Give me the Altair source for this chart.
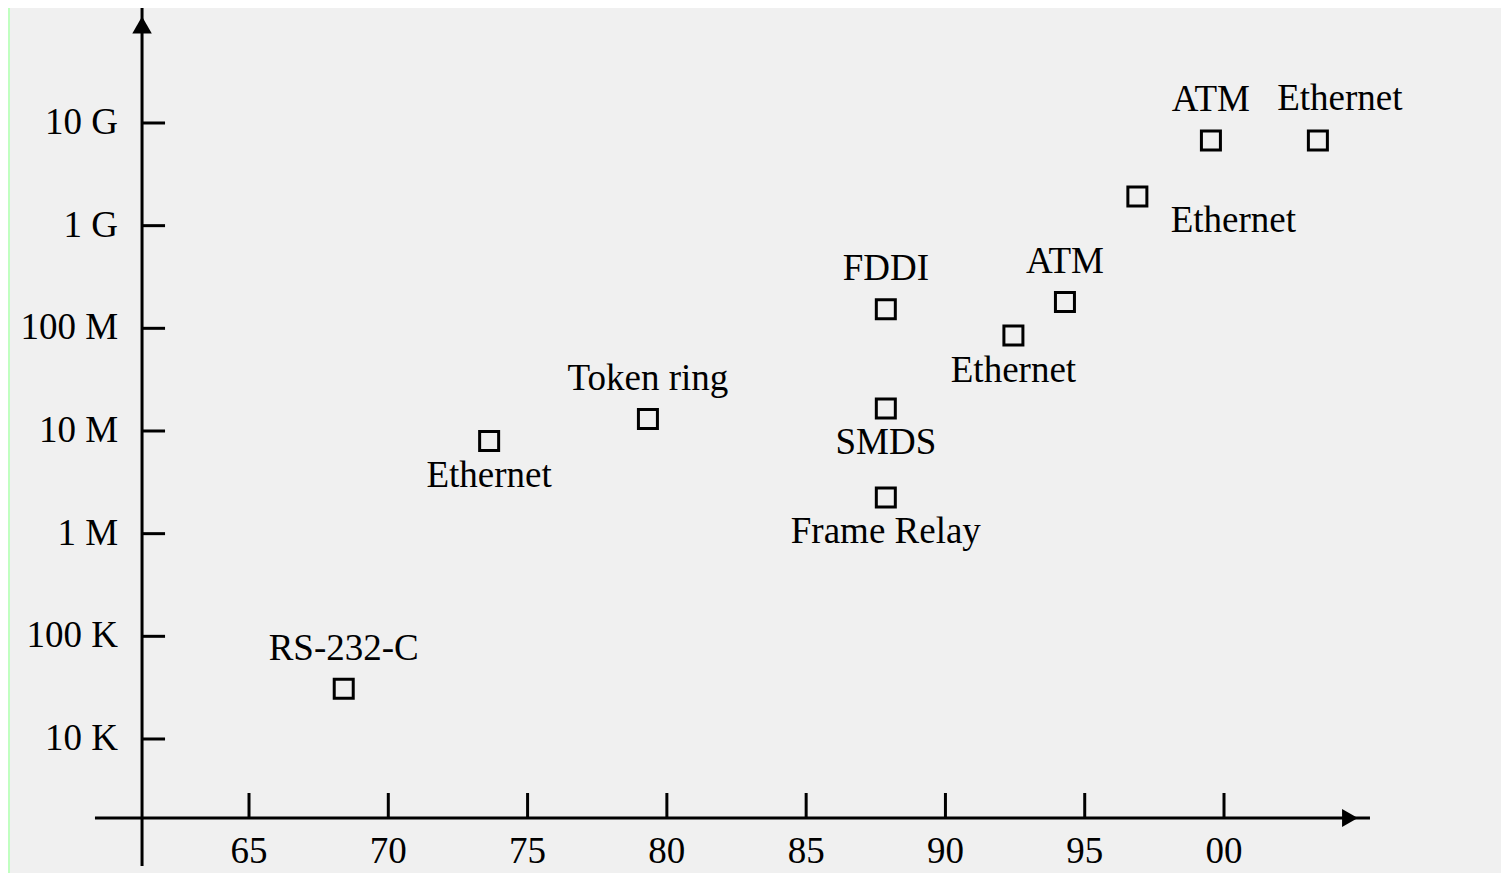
import altair as alt
import pandas as pd

# ---- data ----
names = ["RS-232-C", "Ethernet", "Token ring", "FDDI", "SMDS", "Frame Relay",
         "Ethernet", "ATM", "Ethernet", "ATM", "Ethernet"]
years = [68.40, 73.62, 79.32, 87.86, 87.86, 87.86, 92.44, 94.29, 96.89, 99.53, 103.37]
rates = [3.08e4, 8.0e6, 1.31e7, 1.53e8, 1.66e7, 2.25e6, 8.5e7, 1.80e8, 1.92e9, 6.76e9, 6.76e9]
placement = ["above", "below", "above", "above", "below", "below",
             "below", "above", "below_right", "above", "above_right"]

y_tick_values = [1e4, 1e5, 1e6, 1e7, 1e8, 1e9, 1e10]
y_tick_labels = ["10 K", "100 K", "1 M", "10 M", "100 M", "1 G", "10 G"]
x_tick_values = [65, 70, 75, 80, 85, 90, 95, 100]
x_tick_labels = ["65", "70", "75", "80", "85", "90", "95", "00"]

# ---- layout constants (scale calibration) ----
W, H = 1491, 865
PX_YEAR = 27.857
PX_DEC = 102.667
x_dom = [56.42, 56.42 + W / PX_YEAR]
y_top_exp = 11.12
y_dom = [10 ** (y_top_exp - H / PX_DEC), 10 ** y_top_exp]

axis_year = 61.16            # where the vertical axis sits
axis_rate = 10 ** 3.2305     # where the horizontal axis sits
yaxis_bottom = 10 ** 2.763   # vertical axis runs a little below the horizontal one
x_axis_from, x_axis_to = 59.47, 105.24
ytick_len = 23 / PX_YEAR
xtick_len_exp = 25 / PX_DEC

FONT = "Liberation Serif"
FS = 37
INK = "black"

xs = alt.Scale(domain=x_dom, nice=False, zero=False)
ys = alt.Scale(type="log", domain=y_dom, nice=False)

pts = pd.DataFrame({"name": names, "year": years, "rate": rates, "pos": placement})

# axis lines
yaxis_df = pd.DataFrame({"x": [axis_year], "y0": [yaxis_bottom], "y1": [y_dom[1]]})
xaxis_df = pd.DataFrame({"y": [axis_rate], "x0": [x_axis_from], "x1": [x_axis_to]})

yaxis = alt.Chart(yaxis_df).mark_rule(color=INK, strokeWidth=3).encode(
    x=alt.X("x:Q", scale=xs, axis=None),
    y=alt.Y("y0:Q", scale=ys, axis=None),
    y2="y1:Q",
)
xaxis = alt.Chart(xaxis_df).mark_rule(color=INK, strokeWidth=3).encode(
    x=alt.X("x0:Q", scale=xs, axis=None),
    x2="x1:Q",
    y=alt.Y("y:Q", scale=ys, axis=None),
)

# arrow heads
up_df = pd.DataFrame({"x": [axis_year], "y": [10 ** 10.9545]})
right_df = pd.DataFrame({"x": [104.52], "y": [axis_rate]})
up_arrow = alt.Chart(up_df).mark_point(shape="triangle-up", filled=True, size=380,
                                       color=INK, opacity=1).encode(
    x=alt.X("x:Q", scale=xs, axis=None), y=alt.Y("y:Q", scale=ys, axis=None))
right_arrow = alt.Chart(right_df).mark_point(shape="triangle-right", filled=True, size=330,
                                             color=INK, opacity=1).encode(
    x=alt.X("x:Q", scale=xs, axis=None), y=alt.Y("y:Q", scale=ys, axis=None))

# ticks
yt = pd.DataFrame({"rate": y_tick_values, "label": y_tick_labels,
                   "x0": axis_year, "x1": axis_year + ytick_len})
xt = pd.DataFrame({"year": x_tick_values, "label": x_tick_labels,
                   "y0": axis_rate, "y1": axis_rate * 10 ** xtick_len_exp})

yticks = alt.Chart(yt).mark_rule(color=INK, strokeWidth=3).encode(
    x=alt.X("x0:Q", scale=xs, axis=None), x2="x1:Q",
    y=alt.Y("rate:Q", scale=ys, axis=None))
xticks = alt.Chart(xt).mark_rule(color=INK, strokeWidth=3).encode(
    x=alt.X("year:Q", scale=xs, axis=None),
    y=alt.Y("y0:Q", scale=ys, axis=None), y2="y1:Q")

ylabels = alt.Chart(yt).mark_text(font=FONT, fontSize=FS, color=INK, align="right",
                                  baseline="middle", dx=-24).encode(
    x=alt.X("x0:Q", scale=xs, axis=None),
    y=alt.Y("rate:Q", scale=ys, axis=None), text="label:N")
xlabels = alt.Chart(xt).mark_text(font=FONT, fontSize=FS, color=INK, align="center",
                                  baseline="middle", dy=34).encode(
    x=alt.X("year:Q", scale=xs, axis=None),
    y=alt.Y("y0:Q", scale=ys, axis=None), text="label:N")

# points
points = alt.Chart(pts).mark_point(shape="square", filled=False, size=361, strokeWidth=3,
                                   color=INK, opacity=1).encode(
    x=alt.X("year:Q", scale=xs, axis=None),
    y=alt.Y("rate:Q", scale=ys, axis=None))


def label_layer(pos, dx, dy):
    return alt.Chart(pts).transform_filter(alt.datum.pos == pos).mark_text(
        font=FONT, fontSize=FS, color=INK, align="center", baseline="middle",
        dx=dx, dy=dy).encode(
        x=alt.X("year:Q", scale=xs, axis=None),
        y=alt.Y("rate:Q", scale=ys, axis=None),
        text="name:N")


labels = [
    label_layer("above", 0, -40),
    label_layer("below", 0, 35),
    label_layer("below_right", 96, 24),
    label_layer("above_right", 22, -41),
]

chart = alt.layer(
    yaxis, xaxis, up_arrow, right_arrow, yticks, xticks, ylabels, xlabels, points, *labels
).properties(
    width=W, height=H,
    autosize=alt.AutoSizeParams(type="none"),
    padding={"left": 2, "top": 0, "right": 0, "bottom": 0},
    background="#c0ffc0",
).configure_view(stroke=None, fill="#f0f0f0")

chart.save("out.html", embed_options={"renderer": "svg", "actions": False})
